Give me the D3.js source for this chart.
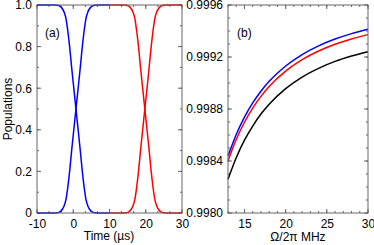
<!DOCTYPE html>
<html><head><meta charset="utf-8">
<script src="https://cdn.jsdelivr.net/npm/d3@7"></script>
<style>body{margin:0;background:#fff}svg{display:block}text{font-family:"Liberation Sans",Arial,sans-serif}</style>
</head><body>
<svg id="c" width="374" height="245"></svg>
<script>
// ---- data ----
const timeBlue = [-10,-6,-5,-4.5,-4,-3.5,-3,-2.5,-2,-1.5,-1,-0.5,0,0.75,1.5,2,2.5,3,3.5,4,4.5,5,5.5,6,7,10];
const blueFall = [1,1,1,0.999,0.997,0.992,0.982,0.965,0.935,0.875,0.80,0.71,0.625,0.5,0.375,0.29,0.20,0.125,0.065,0.035,0.018,0.008,0.003,0.001,0,0];
const blueRise = [0,0,0,0.001,0.003,0.008,0.018,0.035,0.065,0.125,0.20,0.29,0.375,0.5,0.625,0.71,0.80,0.875,0.935,0.965,0.982,0.992,0.997,0.999,1,1];
const timeRed = [10,13,14,14.5,15,15.5,16,16.5,17,17.5,18,18.5,19,19.75,20.5,21,21.5,22,22.5,23,23.5,24,24.5,25,26,30];
const redFall = [1,1,1,0.999,0.997,0.992,0.982,0.965,0.935,0.875,0.80,0.71,0.625,0.5,0.375,0.29,0.20,0.125,0.065,0.035,0.018,0.008,0.003,0.001,0,0];
const redRise = [0,0,0,0.001,0.003,0.008,0.018,0.035,0.065,0.125,0.20,0.29,0.375,0.5,0.625,0.71,0.80,0.875,0.935,0.965,0.982,0.992,0.997,0.999,1,1];

const omega = [13,14,15,16,17,18,20,22,24,26,28,30];
const fidBlue  = [0.998438,0.998604,0.998738,0.998847,0.998937,0.999013,0.999131,0.999219,0.999286,0.999338,0.999380,0.999413];
const fidRed   = [0.998400,0.998565,0.998698,0.998807,0.998897,0.998973,0.999091,0.999179,0.999246,0.999298,0.999339,0.999372];
const fidBlack = [0.998259,0.998425,0.998560,0.998669,0.998761,0.998837,0.998957,0.999046,0.999113,0.999166,0.999207,0.999241];

const leftXTicks = [-10,0,10,20,30];
const leftYTicks = [0,0.2,0.4,0.6,0.8,1.0];
const leftYLabels = ["0","0.2","0.4","0.6","0.8","1.0"];
const rightXTicks = [15,20,25,30];
const rightYTicks = [0.9980,0.9984,0.9988,0.9992,0.9996];
const rightYLabels = ["0.9980","0.9984","0.9988","0.9992","0.9996"];

// ---- drawing ----
const svg = d3.select("#c");
const frameCol = "#666";
const FS = 12;

function panel(x, y, xMajor, xMinorStep, yMajor, yMinorStep, xFmt, yFmt) {
  const g = svg.append("g");
  const [x0,x1] = x.range(), [y0,y1] = y.range(); // y0 bottom
  const minorX = d3.range(x.domain()[0], x.domain()[1]+1e-9, xMinorStep);
  const minorY = d3.range(y.domain()[0], y.domain()[1]+1e-12, yMinorStep);
  const tick = (x1_,y1_,x2_,y2_) => g.append("line").attr("x1",x1_).attr("y1",y1_).attr("x2",x2_).attr("y2",y2_)
      .attr("stroke",frameCol).attr("stroke-width",1);
  minorX.forEach(v=>{const px=x(v); tick(px,y0,px,y0-2); tick(px,y1,px,y1+2);});
  minorY.forEach(v=>{const py=y(v); tick(x0,py,x0+2,py); tick(x1,py,x1-2,py);});
  xMajor.forEach(v=>{const px=x(v); tick(px,y0,px,y0-4); tick(px,y1,px,y1+4);});
  yMajor.forEach(v=>{const py=y(v); tick(x0,py,x0+4,py); tick(x1,py,x1-4,py);});
  // labels via d3 axes (no tick lines)
  const ax = d3.axisBottom(x).tickValues(xMajor).tickFormat(xFmt).tickSize(0).tickPadding(6);
  const gx = g.append("g").attr("transform",`translate(0,${y0})`).call(ax);
  const ay = d3.axisLeft(y).tickValues(yMajor).tickFormat(yFmt).tickSize(0).tickPadding(5);
  const gy = g.append("g").attr("transform",`translate(${x0},0)`).call(ay);
  [gx,gy].forEach(a=>{a.select(".domain").remove(); a.selectAll("text").attr("font-size",FS).attr("fill","#000")
     .attr("font-family",'"Liberation Sans",Arial,sans-serif');});
  return g;
}

// left panel
const xL = d3.scaleLinear().domain([-10,30]).range([37,182]);
const yL = d3.scaleLinear().domain([0,1]).range([213,5]);
const gL = panel(xL, yL, leftXTicks, 10/3, leftYTicks, 0.1,
  d=>String(d), (d,i)=>leftYLabels[i]);
const lineL = (ts, vs) => d3.line().x((d,i)=>xL(ts[i])).y(d=>yL(d)).curve(d3.curveMonotoneX)(vs);
[[timeBlue,blueFall,"#0000ff"],[timeBlue,blueRise,"#0000ff"],[timeRed,redFall,"#ff0000"],[timeRed,redRise,"#ff0000"]]
  .forEach(([t,v,c])=>svg.append("path").attr("d",lineL(t,v)).attr("fill","none").attr("stroke",c).attr("stroke-width",1.5));
svg.append("rect").attr("x",37).attr("y",5).attr("width",145).attr("height",208).attr("fill","none").attr("stroke",frameCol);

// right panel
const xR = d3.scaleLinear().domain([13,30]).range([228,368]);
const yR = d3.scaleLinear().domain([0.9980,0.9996]).range([213,5]);
panel(xR, yR, rightXTicks, 1, rightYTicks, 0.0001, d=>String(d), (d,i)=>rightYLabels[i]);
const lineR = vs => d3.line().x((d,i)=>xR(omega[i])).y(d=>yR(d)).curve(d3.curveMonotoneX)(vs);
[[fidBlack,"#000"],[fidRed,"#ff0000"],[fidBlue,"#0000ff"]]
  .forEach(([v,c])=>svg.append("path").attr("d",lineR(v)).attr("fill","none").attr("stroke",c).attr("stroke-width",1.5));
svg.append("rect").attr("x",228).attr("y",5).attr("width",140).attr("height",208).attr("fill","none").attr("stroke",frameCol);

// texts
const txt = (x,y,s,opts={}) => {
  const t = svg.append("text").attr("x",x).attr("y",y).attr("font-size",FS).attr("fill","#000").text(s);
  if (opts.anchor) t.attr("text-anchor",opts.anchor);
  if (opts.rotate) t.attr("transform",`rotate(-90,${x},${y})`);
  return t;
};
txt(45,37,"(a)");
txt(237,37,"(b)");
txt(109,240,"Time (\u00b5s)",{anchor:"middle"});
txt(298,241,"\u03a9/2\u03c0 MHz",{anchor:"middle"});
txt(12,109,"Populations",{anchor:"middle",rotate:true});
</script>
</body></html>
